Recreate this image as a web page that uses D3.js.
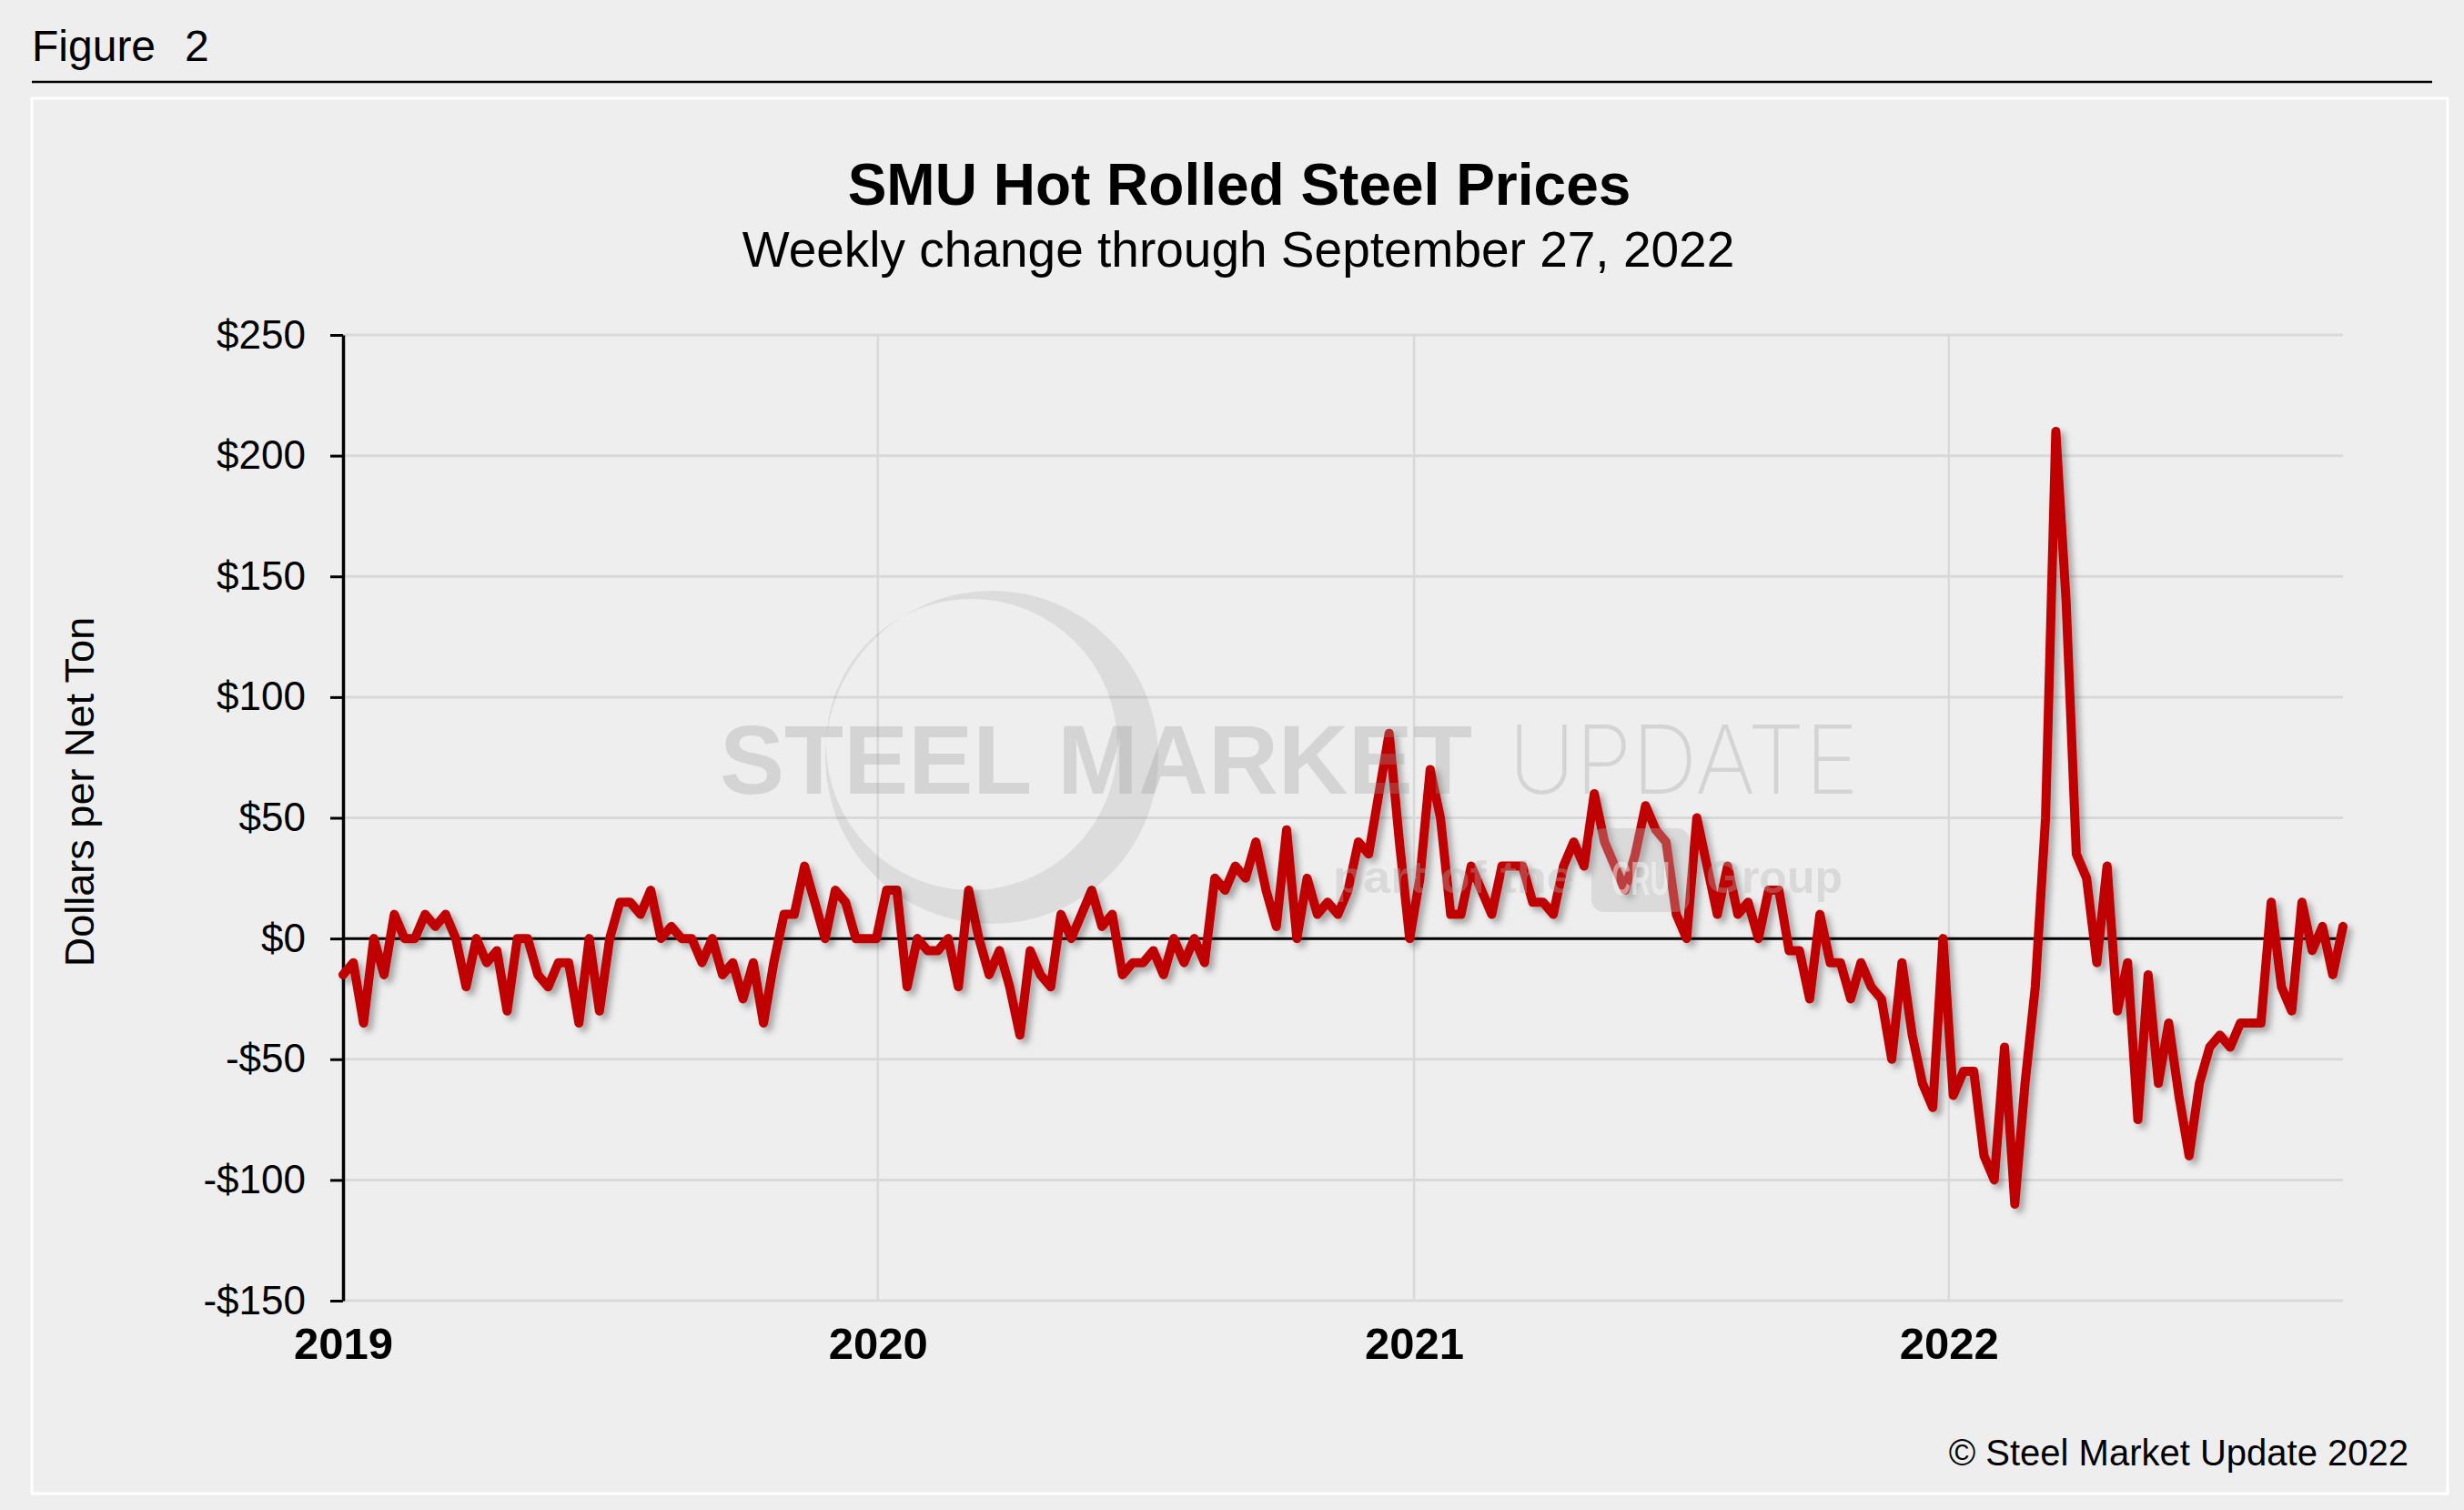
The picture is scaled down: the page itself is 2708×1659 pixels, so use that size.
<!DOCTYPE html>
<html>
<head>
<meta charset="utf-8">
<script src="https://cdn.jsdelivr.net/npm/d3@7"></script>
<style>
  html, body { margin: 0; padding: 0; background: #eeeeee; }
  svg { display: block; }
</style>
</head>
<body>
<svg id="chart"></svg>
<script>
// weekly change in $/net ton, one value per week starting Jan 1, 2019 (Tuesdays)
const weeklyChange = [
  -15, -10, -35, 0, -15, 10, 0, 0, 10, 5, 10, 0, -20, 0, -10, -5, -30, 0, 0, -15,
  -20, -10, -10, -35, 0, -30, 0, 15, 15, 10, 20, 0, 5, 0, 0, -10, 0, -15, -10, -25,
  -10, -35, -10, 10, 10, 30, 15, 0, 20, 15, 0, 0, 0, 20, 20, -20, 0, -5, -5, 0,
  -20, 20, 0, -15, -5, -20, -40, -5, -15, -20, 10, 0, 10, 20, 5, 10, -15, -10, -10, -5,
  -15, 0, -10, 0, -10, 25, 20, 30, 25, 40, 20, 5, 45, 0, 25, 10, 15, 10, 20, 40,
  35, 60, 85, 40, 0, 25, 70, 50, 10, 10, 30, 20, 10, 30, 30, 30, 15, 15, 10, 30,
  40, 30, 60, 40, 30, 20, 35, 55, 45, 40, 10, 0, 50, 30, 10, 30, 10, 15, 0, 20,
  20, -5, -5, -25, 10, -10, -10, -25, -10, -20, -25, -50, -10, -40, -60, -70, 0, -65, -55, -55,
  -90, -100, -45, -110, -60, -20, 50, 210, 140, 35, 25, -10, 30, -30, -10, -75, -15, -60, -35, -65,
  -90, -60, -45, -40, -45, -35, -35, -35, 15, -20, -30, 15, -5, 5, -15, 5
];
const firstWeek = "2019-01-01";
const lastWeek = "2022-09-27";
const yearLabels = ["2019", "2020", "2021", "2022"];
const yTicks = [-150, -100, -50, 0, 50, 100, 150, 200, 250];

const W = 2708, H = 1659;
const font = "'Liberation Sans', Arial, sans-serif";

const svg = d3.select("#chart").attr("width", W).attr("height", H);

// --- Frame ---
svg.append("rect").attr("width", W).attr("height", H).attr("fill", "#eeeeee");
svg.append("text")
  .attr("x", 35).attr("y", 67)
  .attr("font-family", font).attr("font-size", 48)
  .text("Figure")
  .append("tspan").attr("x", 203).text("2");
svg.append("line")
  .attr("x1", 35).attr("x2", 2673).attr("y1", 90).attr("y2", 90)
  .attr("stroke", "#000").attr("stroke-width", 2.5);
svg.append("rect")
  .attr("x", 35).attr("y", 108).attr("width", 2655).attr("height", 1533)
  .attr("fill", "#eeeeee").attr("stroke", "#ffffff").attr("stroke-width", 3);

// --- Titles ---
svg.append("text")
  .attr("x", 1362).attr("y", 225).attr("text-anchor", "middle")
  .attr("font-family", font).attr("font-size", 64).attr("font-weight", "bold")
  .text("SMU Hot Rolled Steel Prices");
svg.append("text")
  .attr("x", 1361).attr("y", 293).attr("text-anchor", "middle")
  .attr("font-family", font).attr("font-size", 55)
  .text("Weekly change through September 27, 2022");

// --- Scales ---
const parse = d3.utcParse("%Y-%m-%d");
const start = parse(firstWeek);
const data = weeklyChange.map((v, i) => ({ date: d3.utcDay.offset(start, 7 * i), value: v }));

const x = d3.scaleUtc().domain([start, parse(lastWeek)]).range([377, 2575]);
const y = d3.scaleLinear().domain([-150, 250]).range([1429, 368]);
const yearDates = yearLabels.map(s => parse(s + "-01-01"));

// --- Grid ---
const grid = svg.append("g");
grid.selectAll("line.h").data(yTicks).join("line")
  .attr("x1", x.range()[0]).attr("x2", x.range()[1])
  .attr("y1", d => y(d)).attr("y2", d => y(d))
  .attr("stroke", "#d9d9d9").attr("stroke-width", 3);
grid.selectAll("line.v").data(yearDates.slice(1)).join("line")
  .attr("x1", d => x(d)).attr("x2", d => x(d))
  .attr("y1", y(250)).attr("y2", y(-150))
  .attr("stroke", "#d9d9d9").attr("stroke-width", 2.5);
svg.append("line")
  .attr("x1", x.range()[0]).attr("x2", x.range()[1])
  .attr("y1", y(0)).attr("y2", y(0))
  .attr("stroke", "#000").attr("stroke-width", 3);

// --- Axes ---
const yAxis = svg.append("g")
  .attr("transform", `translate(${x.range()[0]},0)`)
  .call(d3.axisLeft(y).tickValues(yTicks).tickSize(14).tickSizeOuter(0).tickPadding(27)
    .tickFormat(d => (d < 0 ? "-$" : "$") + Math.abs(d)));
yAxis.select(".domain").attr("stroke", "#000").attr("stroke-width", 3.5);
yAxis.selectAll(".tick line").attr("stroke", "#000").attr("stroke-width", 3);
yAxis.selectAll(".tick text")
  .attr("font-family", font).attr("font-size", 44).attr("fill", "#000");

const xAxis = svg.append("g")
  .attr("transform", `translate(0,${y(-150)})`)
  .call(d3.axisBottom(x).tickValues(yearDates).tickSize(0).tickFormat(d3.utcFormat("%Y")));
xAxis.select(".domain").remove();
xAxis.selectAll(".tick text")
  .attr("y", 64).attr("dy", 0)
  .attr("font-family", font).attr("font-size", 49).attr("font-weight", "bold").attr("fill", "#000");

// y axis title
svg.append("text")
  .attr("transform", "translate(103,870) rotate(-90)")
  .attr("text-anchor", "middle")
  .attr("font-family", font).attr("font-size", 45)
  .text("Dollars per Net Ton");

// --- Series ---
const defs = svg.append("defs");
defs.append("filter").attr("id", "shadow")
  .attr("x", "-5%").attr("y", "-5%").attr("width", "110%").attr("height", "110%")
  .append("feDropShadow")
  .attr("dx", 5).attr("dy", 5).attr("stdDeviation", 3.5)
  .attr("flood-color", "#000").attr("flood-opacity", 0.3);

const line = d3.line().x(d => x(d.date)).y(d => y(d.value));
svg.append("path")
  .datum(data)
  .attr("d", line)
  .attr("fill", "none")
  .attr("stroke", "#c00000")
  .attr("stroke-width", 10)
  .attr("stroke-linejoin", "round")
  .attr("stroke-linecap", "round")
  .attr("filter", "url(#shadow)");

// --- Watermark (drawn over the line, semi transparent) ---
const wm = svg.append("g");
const ring = d3.path();
ring.arc(1090, 832, 183, 0, 2 * Math.PI);
ring.moveTo(1068 + 160, 818);
ring.arc(1068, 818, 160, 0, 2 * Math.PI);
wm.append("path").attr("d", ring.toString())
  .attr("fill", "#000").attr("fill-rule", "evenodd").attr("opacity", 0.075);
wm.append("text")
  .attr("x", 791).attr("y", 872)
  .attr("font-family", font).attr("font-size", 107).attr("font-weight", "bold")
  .attr("textLength", 827).attr("lengthAdjust", "spacingAndGlyphs")
  .attr("fill", "#9a9a9a").attr("opacity", 0.3)
  .text("STEEL MARKET");
wm.append("text")
  .attr("x", 1658).attr("y", 872)
  .attr("font-family", "Inter, Lato, 'Open Sans', sans-serif").attr("font-size", 105).attr("font-weight", 200)
  .attr("textLength", 385).attr("lengthAdjust", "spacingAndGlyphs")
  .attr("fill", "#9a9a9a").attr("opacity", 0.3)
  .text("UPDATE");
wm.append("text")
  .attr("x", 1465).attr("y", 981)
  .attr("font-family", font).attr("font-size", 50).attr("font-weight", "bold")
  .attr("textLength", 265).attr("lengthAdjust", "spacingAndGlyphs")
  .attr("fill", "#b5b5b5").attr("opacity", 0.35)
  .text("part of the");
wm.append("rect")
  .attr("x", 1749).attr("y", 910).attr("width", 108).attr("height", 92).attr("rx", 14)
  .attr("fill", "#b5b5b5").attr("opacity", 0.35);
wm.append("text")
  .attr("x", 1803).attr("y", 983).attr("text-anchor", "middle")
  .attr("font-family", font).attr("font-size", 52).attr("font-weight", "bold")
  .attr("textLength", 64).attr("lengthAdjust", "spacingAndGlyphs")
  .attr("fill", "#ffffff").attr("opacity", 0.45)
  .text("CRU");
wm.append("text")
  .attr("x", 1875).attr("y", 981)
  .attr("font-family", font).attr("font-size", 50).attr("font-weight", "bold")
  .attr("fill", "#b5b5b5").attr("opacity", 0.35)
  .text("Group");

// --- Source ---
svg.append("text")
  .attr("x", 2647).attr("y", 1610).attr("text-anchor", "end")
  .attr("font-family", font).attr("font-size", 40)
  .text("\u00a9 Steel Market Update 2022");
</script>
</body>
</html>
